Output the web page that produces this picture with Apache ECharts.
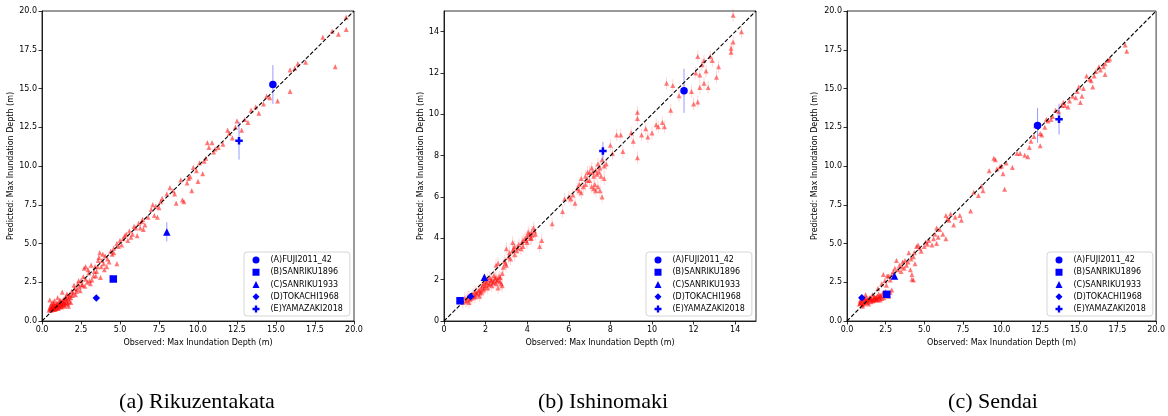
<!DOCTYPE html>
<html><head><meta charset="utf-8">
<script src="https://cdn.jsdelivr.net/npm/echarts@6/dist/echarts.min.js"></script>
<style>html,body{margin:0;padding:0;background:#fff}#c{width:1168px;height:416px}</style>
</head><body><div id="c"></div>
<script>
const captions = ['(a) Rikuzentakata', '(b) Ishinomaki', '(c) Sendai'];
const axisMax = [20, 15, 20];
const tickStep = [2.5, 2, 2.5];
const eventNames = ['(A)FUJI2011_42', '(B)SANRIKU1896', '(C)SANRIKU1933', '(D)TOKACHI1968', '(E)YAMAZAKI2018'];
const xName = 'Observed: Max Inundation Depth (m)';
const yName = 'Predicted: Max Inundation Depth (m)';

// blue event points: [observed, predicted, error half-width]
const blueA = [[14.8, 15.26, 1.25], [4.57, 2.71, 0.12], [8.0, 5.75, 0.62], [3.48, 1.49, 0.1], [12.63, 11.63, 1.22]];
const blueB = [[11.54, 11.14, 1.07], [0.77, 0.98, 0.1], [1.94, 2.12, 0.12], [1.28, 1.19, 0.1], [7.64, 8.22, 0.45]];
const blueC = [[12.33, 12.62, 1.13], [2.57, 1.72, 0.1], [3.07, 2.9, 0.12], [0.96, 1.5, 0.1], [13.72, 13.02, 1.0]];
const redErr = [0.15, 0.3, 0.12];

const redA = [[0.45,0.7],[0.5,0.8],[0.55,0.75],[0.6,0.85],[0.6,0.7],[0.65,0.9],[0.7,0.8],[0.7,0.95],[0.75,0.75],[0.8,0.85],[0.8,1.0],[0.85,0.9],[0.9,0.8],[0.9,1.05],[0.95,0.95],[1.0,0.85],[1.0,1.1],[1.05,1.0],[1.1,0.9],[1.1,1.2],[1.15,1.05],[1.2,0.95],[1.2,1.25],[1.25,1.1],[1.3,1.0],[1.3,1.3],[1.35,1.15],[1.4,1.05],[1.4,1.4],[1.45,1.2],[1.5,1.1],[1.5,1.5],[1.55,1.3],[1.6,1.2],[1.6,1.6],[1.7,1.4],[1.75,1.25],[1.8,1.7],[1.85,1.5],[1.9,1.9],[0.5,1.35],[0.6,1.1],[0.8,1.3],[1.3,1.85],[1.0,1.5],[1.7,0.95],
[0.55,0.95],[0.65,0.8],[0.75,1.1],[0.85,0.75],[0.95,1.15],[1.05,0.8],[1.15,1.35],[1.25,0.9],[1.35,1.25],[1.45,0.95],[1.55,1.45],[1.65,1.1],[1.75,1.55],[1.85,1.2],[1.95,1.65],[0.7,1.2],[1.6,1.75],
[2.0,1.8],[2.1,2.1],[2.2,1.9],[2.3,2.4],[2.4,2.2],[2.5,2.6],[2.6,2.3],[2.7,3.4],[2.8,2.7],[2.8,3.5],[2.9,2.5],[3.0,3.1],[3.1,2.4],[3.2,2.65],[3.3,2.9],[3.4,3.5],[3.5,3.2],[3.6,3.9],[3.7,4.4],[3.75,2.8],[3.8,3.5],[3.9,4.3],[3.95,3.7],[4.0,3.3],[4.2,4.0],[4.3,3.8],[4.5,4.3],[4.6,4.7],[4.8,3.7],[4.8,5.0],[5.0,5.2],[5.1,4.9],[5.3,5.5],[5.5,5.2],[5.6,5.8],[5.8,5.6],[6.0,6.0],[6.1,5.5],[6.2,6.3],[6.4,6.4],[6.5,5.9],[6.6,6.2],
[2.05,2.3],[2.15,1.7],[2.25,2.05],[2.35,2.6],[2.45,1.95],[2.55,2.35],[2.65,2.85],[2.75,2.25],[2.95,3.3],[3.05,2.6],[3.15,3.6],[3.35,3.2],[3.45,2.9],[3.55,3.5],[3.65,4.1],[3.85,3.9],[4.05,4.2],[4.15,3.5],[4.4,4.5],[4.6,4.4],[4.9,4.8],[5.2,5.3],[5.4,5.6],[5.7,5.4],[5.9,6.1],[6.3,6.0],[6.45,6.55],[6.8,6.7],
[7.0,7.2],[7.2,6.8],[7.3,7.4],[7.4,6.7],[7.5,7.3],[7.7,7.9],[8.0,8.2],[8.2,8.6],[8.5,8.2],[8.6,7.6],[8.9,9.1],[9.0,7.8],[9.1,7.7],[9.3,8.9],[9.5,9.3],[9.6,8.4],[9.7,9.9],[10.0,9.0],[10.1,10.2],[10.3,9.5],[10.5,10.5],[10.7,11.2],[10.9,11.5],[11.0,10.9],[11.3,11.2],[11.6,11.4],[11.9,12.3],[12.2,11.8],[12.5,12.9],[12.8,12.3],[13.2,12.8],[13.4,13.6],[13.9,13.4],[14.2,14.0],[14.6,14.4],[15.1,14.2],[15.9,14.8],[15.9,16.2],[16.4,16.6],[16.9,16.7],[18.0,18.3],[18.6,18.7],[19.0,18.5],[19.5,18.8],[18.8,16.4],[19.5,19.6],
[7.1,7.5],[7.6,7.7],[8.4,8.4],[9.4,9.2],[9.9,9.7],[10.4,10.3],[10.6,11.5],[11.1,11.1],[12.0,12.1],[12.4,12.5],[13.0,13.0],[13.7,13.8],[14.4,14.5],[16.2,16.3]];

const redB = [[0.9,0.9],[1.0,1.1],[1.1,1.0],[1.2,0.9],[1.2,1.2],[1.3,1.1],[1.4,1.3],[1.5,1.2],[1.5,1.4],[1.6,1.3],[1.7,1.5],[1.7,1.2],[1.8,1.6],[1.8,1.4],[1.9,1.8],[1.9,1.5],[2.0,1.7],[2.0,1.9],[2.1,1.6],[2.1,2.0],[2.2,1.8],[2.2,2.1],[2.3,1.7],[2.3,2.0],[2.4,1.9],[2.4,2.2],[2.5,1.8],[2.5,2.1],[2.6,2.0],[2.6,1.6],[2.7,2.1],[2.7,1.9],[2.8,1.7],[2.8,2.3],[2.5,2.7],[2.6,2.8],[2.9,2.9],[3.0,2.7],[3.1,3.1],[3.2,3.0],[3.3,3.4],[3.4,3.2],[3.4,3.6],[3.5,3.4],[3.6,3.7],[3.7,3.5],[3.8,3.9],[3.8,3.6],[3.9,4.0],[4.0,3.8],[4.0,4.1],[4.1,4.2],[4.2,4.0],[4.2,4.3],[4.3,4.5],[4.4,4.2],[4.6,3.6],[4.7,3.9],[3.0,3.5],[3.3,3.8],
[1.05,0.95],[1.15,1.15],[1.25,1.05],[1.35,1.2],[1.45,1.15],[1.55,1.35],[1.65,1.45],[1.75,1.35],[1.85,1.7],[1.95,1.6],[2.05,1.85],[2.15,1.75],[2.25,1.95],[2.35,1.85],[2.45,2.05],[2.55,1.95],[2.65,2.15],[2.75,1.8],[2.85,2.6],[2.95,2.8],[3.15,3.3],[3.35,3.5],[3.55,3.55],[3.75,3.8],[3.95,3.9],[4.05,4.3],[4.15,4.0],[4.25,4.15],[4.35,4.35],
[5.2,4.7],[5.7,5.3],[5.8,5.9],[6.0,6.0],[6.1,5.9],[6.2,6.1],[6.3,5.7],[6.4,6.4],[6.5,6.6],[6.6,6.9],[6.7,6.5],[6.8,7.0],[6.9,6.8],[7.0,7.2],[7.0,6.8],[7.1,7.4],[7.2,7.0],[7.2,6.4],[7.3,7.3],[7.3,6.3],[7.4,7.6],[7.4,6.5],[7.5,7.4],[7.5,6.3],[7.6,7.8],[7.7,6.9],[7.8,7.6],[7.6,6.0],[7.1,6.5],[6.6,6.2],[8.0,8.5],[8.1,8.1],
[6.8,6.6],[6.9,7.2],[7.15,7.2],[7.35,7.1],[7.45,7.2],[7.55,7.0],[7.7,7.5],[7.25,6.6],[6.5,6.3],
[8.3,9.0],[8.5,9.0],[8.6,8.2],[9.1,8.7],[9.3,7.9],[9.3,10.1],[9.3,9.8],[9.5,9.0],[9.7,9.3],[9.8,8.9],[10.0,9.1],[10.2,9.5],[10.5,9.6],[10.6,9.4],[10.9,10.2],[10.7,11.5],[11.0,11.4],[11.3,10.9],[11.9,11.1],[12.0,10.5],[12.2,10.6],[12.3,11.9],[12.5,11.5],[12.7,11.3],[12.4,12.4],[12.5,12.6],[12.2,12.8],[12.8,12.8],[13.1,11.8],[13.2,12.3],[13.8,13.2],[13.8,13.0],[13.9,13.5],[13.9,14.8],[14.3,14.0],
[12.1,12.0],[12.6,12.1],[12.9,12.6],[12.3,11.3],[11.5,11.2],[10.3,9.4],[9.0,9.1]];

const redC = [[0.8,1.1],[0.85,1.3],[0.9,1.2],[1.0,1.05],[1.05,1.25],[1.1,1.4],[1.15,1.15],[1.2,1.3],[1.25,1.5],[1.3,1.2],[1.35,1.4],[1.4,1.1],[1.45,1.35],[1.5,1.5],[1.55,1.25],[1.6,1.45],[1.65,1.7],[1.7,1.3],[1.75,1.4],[1.8,1.55],[1.85,1.35],[1.9,1.5],[1.95,1.6],[2.0,1.4],[2.05,1.75],[2.1,1.5],[2.15,1.35],[2.2,1.6],[2.3,1.8],[2.4,1.5],[2.5,1.9],[2.7,1.6],[2.9,2.0],[2.0,2.1],[1.2,1.7],[1.0,0.95],
[0.85,1.15],[0.95,1.35],[1.05,1.1],[1.15,1.45],[1.25,1.25],[1.35,1.3],[1.45,1.5],[1.55,1.4],[1.65,1.3],[1.75,1.55],[1.85,1.45],[1.95,1.35],[2.05,1.55],[2.15,1.65],[2.25,1.45],[2.35,1.7],[2.45,1.65],[2.6,1.75],[2.8,1.85],
[2.25,2.4],[2.35,3.0],[2.55,2.3],[2.6,2.9],[2.8,2.65],[3.0,3.2],[3.2,3.9],[3.4,3.6],[3.5,3.2],[3.6,3.8],[3.7,3.4],[3.85,3.6],[4.0,4.4],[4.1,3.3],[4.2,3.0],[4.3,2.65],[4.2,2.7],[4.3,4.15],[4.4,3.7],[4.5,4.8],[4.6,4.9],[4.8,4.5],[5.1,5.1],[5.2,4.95],[5.5,4.9],[5.6,5.3],[5.8,5.0],[5.9,5.4],[6.2,5.6],[6.4,5.3],[5.8,6.0],[6.4,6.8],[6.6,6.5],[6.7,6.9],[6.9,6.2],[7.3,6.8],[7.4,6.5],[8.0,7.1],[8.2,8.3],[8.5,8.1],[8.7,8.7],[8.8,8.4],
[2.45,2.6],[2.7,2.9],[2.9,3.0],[3.1,3.4],[3.3,3.3],[3.55,3.5],[3.75,3.9],[3.95,3.8],[4.15,4.0],[4.35,4.4],[4.7,4.7],[5.0,4.8],[5.3,5.2],[5.7,5.6],[6.0,5.9],[6.5,6.6],[7.0,6.7],
[9.2,9.7],[9.5,10.5],[9.6,10.4],[9.9,9.95],[10.1,9.5],[10.2,8.5],[10.3,10.2],[10.7,9.9],[11.2,10.8],[11.5,10.7],[11.7,10.6],[11.8,11.2],[12.1,11.9],[12.5,12.1],[12.6,12.0],[12.5,11.3],[12.9,13.0],[13.3,13.2],[13.5,13.6],[13.9,13.9],[14.3,13.8],[14.6,14.5],[14.9,14.8],[15.0,15.1],[15.1,14.1],[15.2,14.5],[15.5,15.8],[15.8,15.5],[15.9,15.1],[16.1,16.1],[16.3,16.4],[16.7,16.6],[16.7,15.9],[16.9,16.8],[17.0,16.9],[18.0,17.8],[18.1,17.4],[13.0,12.9],[14.0,14.1],[12.2,12.6],
[9.7,9.8],[10.0,10.0],[11.0,10.8],[11.9,11.6],[12.8,12.5],[13.2,13.0],[13.7,13.5],[14.1,13.9],[14.4,14.2],[14.8,14.4],[15.3,15.0],[15.7,15.6],[16.0,15.8],[16.4,16.2],[16.6,16.4]];

const redSets = [redA, redB, redC];
const blueSets = [blueA, blueB, blueC];

const plusPath = 'path://M1,0H2V1H3V2H2V3H1V2H0V1H1Z';
const eventSymbols = ['circle', 'rect', 'triangle', 'diamond', plusPath];

const gridPos = [
  {left: 42, top: 11, width: 312, height: 310},
  {left: 444, top: 11, width: 312, height: 310},
  {left: 847, top: 11, width: 311, height: 310}
];
const yNameGap = [27, 19, 28];
const legendLeft = [244, 646, 1047];
const captionX = [197, 603, 993];
const FONT = 'DejaVu Sans';

function errRender(color) {
  return function (params, api) {
    const x = api.value(0), lo = api.value(1), hi = api.value(2);
    const p1 = api.coord([x, lo]), p2 = api.coord([x, hi]);
    return {type: 'line', shape: {x1: p1[0], y1: p1[1], x2: p2[0], y2: p2[1]},
      style: {stroke: color, lineWidth: 1}};
  };
}

const grids = [], xAxes = [], yAxes = [], series = [], legends = [], graphics = [];
for (let i = 0; i < 3; i++) {
  grids.push(Object.assign({show: true, borderColor: '#000', borderWidth: 0.8, backgroundColor: '#fff'}, gridPos[i]));
  const dec = tickStep[i] % 1 !== 0;
  const axCommon = {
    gridIndex: i, type: 'value', min: 0, max: axisMax[i], interval: tickStep[i],
    splitLine: {show: false},
    axisLine: {show: true, lineStyle: {color: '#000', width: 0.8}},
    axisTick: {show: true, inside: false, length: 3.5, lineStyle: {color: '#000', width: 0.8}},
    axisLabel: {color: '#000', fontSize: 8, fontFamily: FONT, margin: 5,
      formatter: v => dec ? v.toFixed(1) : String(v),
      showMaxLabel: axisMax[i] % tickStep[i] === 0},
    nameLocation: 'middle',
    nameTextStyle: {color: '#000', fontSize: 8, fontFamily: FONT}
  };
  xAxes.push(Object.assign({}, axCommon, {name: xName, nameGap: 15}));
  yAxes.push(Object.assign({}, axCommon, {name: yName, nameGap: yNameGap[i], nameRotate: 90}));

  series.push({
    type: 'custom', xAxisIndex: i, yAxisIndex: i, silent: true, z: 1,
    renderItem: errRender('rgba(255,0,0,0.16)'),
    encode: {x: 0, y: [1, 2]},
    data: redSets[i].map(p => [p[0], p[1] - redErr[i], p[1] + redErr[i]])
  });
  series.push({
    type: 'scatter', name: 'points', xAxisIndex: i, yAxisIndex: i, z: 2,
    symbol: 'triangle', symbolSize: 5,
    itemStyle: {color: 'rgb(255,0,0)', opacity: 0.5},
    data: redSets[i]
  });
  series.push({
    type: 'line', xAxisIndex: i, yAxisIndex: i, z: 3, silent: true, symbol: 'none',
    lineStyle: {color: '#000', width: 1.1, type: [4, 2]},
    data: [[0, 0], [axisMax[i], axisMax[i]]]
  });
  series.push({
    type: 'custom', xAxisIndex: i, yAxisIndex: i, silent: true, z: 4,
    renderItem: errRender('rgba(0,0,255,0.4)'),
    encode: {x: 0, y: [1, 2]},
    data: blueSets[i].map(p => [p[0], p[1] - p[2], p[1] + p[2]])
  });
  eventNames.forEach((nm, k) => {
    series.push({
      type: 'scatter', name: nm, xAxisIndex: i, yAxisIndex: i, z: 5,
      symbol: eventSymbols[k], symbolSize: 7.5,
      itemStyle: {color: '#0000ff', opacity: 1},
      data: [[blueSets[i][k][0], blueSets[i][k][1]]]
    });
  });
  legends.push({
    orient: 'vertical', left: legendLeft[i], top: 252,
    padding: [4, 7, 3, 8.5], itemGap: 4.25, itemWidth: 7, itemHeight: 7,
    backgroundColor: 'rgba(255,255,255,0.85)', borderColor: '#cccccc', borderWidth: 0.8, borderRadius: 3,
    selectedMode: false,
    itemStyle: {opacity: 1},
    textStyle: {color: '#000', fontSize: 8, fontFamily: FONT, lineHeight: 8, padding: [0, 0, 0, 6]},
    data: eventNames.map((nm, k) => ({name: nm, icon: eventSymbols[k]}))
  });
  graphics.push({
    type: 'text', x: captionX[i], y: 402,
    style: {text: captions[i], fill: '#000', font: '22px "Liberation Serif"', textAlign: 'center', textVerticalAlign: 'middle'}
  });
}

const chart = echarts.init(document.getElementById('c'), null, {renderer: 'canvas'});
chart.setOption({
  animation: false,
  backgroundColor: '#fff',
  grid: grids, xAxis: xAxes, yAxis: yAxes, series: series, legend: legends,
  graphic: graphics
});
</script></body></html>
